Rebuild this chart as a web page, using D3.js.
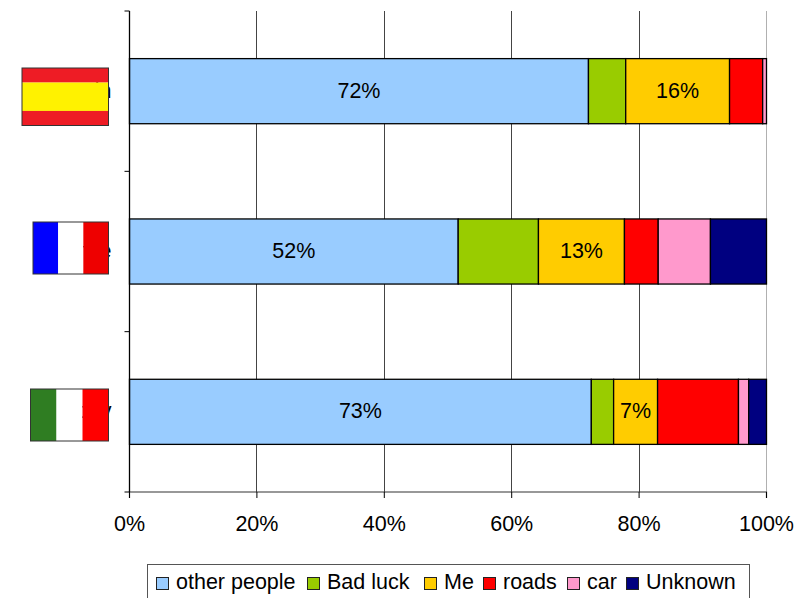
<!DOCTYPE html>
<html><head><meta charset="utf-8">
<script src="https://cdn.jsdelivr.net/npm/d3@7/dist/d3.min.js"></script>
<style>html,body{margin:0;padding:0;background:#fff;overflow:hidden}text{font-family:"Liberation Sans",Arial,sans-serif;fill:#000}</style>
</head><body><svg id="c" width="801" height="598"></svg>
<script>
const countries = ["Spain","France","Italy"];
const seriesNames = ["other people","Bad luck","Me","roads","car","Unknown"];
const seriesColors = ["#99ccff","#99cc00","#ffcc00","#ff0000","#ff99cc","#000080"];
const otherPeople = [72.05,51.6,72.5];
const badLuck = [5.85,12.6,3.5];
const me = [16.3,13.5,6.9];
const roads = [5.2,5.3,12.7];
const car = [0.6,8.2,1.6];
const unknown = [0,8.8,2.8];
const shownLabels = {"other people":["72%","52%","73%"],"Me":["16%","13%","7%"]};
const xTicks = [0,20,40,60,80,100];
const flagStripes = {Spain:{dir:"h",bands:[[1,"#ee1c25"],[1.95,"#fff200"],[1,"#ee1c25"]]},
  France:{dir:"v",bands:[[1,"#0000ff"],[1,"#ffffff"],[1,"#ee0000"]]},
  Italy:{dir:"v",bands:[[1,"#2f7d22"],[1,"#ffffff"],[1,"#ff0000"]]}};
const flagBoxes = {Spain:[22,108.5,68,125.5],France:[33,108.5,222,274],Italy:[30.5,108.5,389,441]};

const rows = [otherPeople,badLuck,me,roads,car,unknown];
const svg = d3.select("#c");
const fs=21.5;
const plotTop=11,plotBottom=492,plotLeft=129.5,plotRight=766.5;
const x = d3.scaleLinear().domain([0,100]).range([plotLeft,plotRight]);
const y = d3.scaleBand().domain(countries).range([plotTop,plotBottom]).paddingInner(0.594).paddingOuter(0.297);

// gridlines
svg.append("g").selectAll("line").data(xTicks.slice(1)).join("line")
  .attr("x1",d=>Math.floor(x(d))+.5).attr("x2",d=>Math.floor(x(d))+.5).attr("y1",plotTop).attr("y2",plotBottom)
  .attr("stroke",d=>d===100?"#b0b0b0":"#444").attr("stroke-width",1);

// bars
const stack = d3.stack().keys(d3.range(6)).value((d,k)=>rows[k][d])(d3.range(3));
const g = svg.append("g");
stack.forEach((s,k)=>{
  s.forEach((p,i)=>{
    const c=countries[i];
    g.append("rect").attr("x",x(p[0])).attr("y",y(c)).attr("width",x(p[1])-x(p[0])).attr("height",y.bandwidth())
     .attr("fill",seriesColors[k]).attr("stroke","#000").attr("stroke-width",1.3);
    const lab=shownLabels[seriesNames[k]];
    if(lab) g.append("text").attr("x",(x(p[0])+x(p[1]))/2).attr("y",y(c)+y.bandwidth()/2+6.5)
      .attr("text-anchor","middle").attr("font-size",fs).attr("fill","#111").text(lab[i]);
  });
});

// axes
const xAxis=d3.axisBottom(x).tickValues(xTicks).tickFormat(d=>d+"%").tickSize(6).tickPadding(18).offset(0);
const ax=svg.append("g").attr("transform",`translate(0,${plotBottom})`).call(xAxis);
ax.selectAll("text").attr("font-size",fs).style("font-family",'"Liberation Sans",Arial,sans-serif');
ax.select(".domain").attr("stroke","#333").attr("stroke-width",1.2);
const yTickPos=[0,1,2,3].map(i=>plotTop+i*(plotBottom-plotTop)/3);
const yAxisG=svg.append("g");
yAxisG.append("line").attr("x1",plotLeft).attr("x2",plotLeft).attr("y1",plotTop).attr("y2",plotBottom).attr("stroke","#000").attr("stroke-width",1.3);
yAxisG.selectAll(".t").data(yTickPos).join("line").attr("class","t").attr("x1",plotLeft-5).attr("x2",plotLeft).attr("y1",d=>d).attr("y2",d=>d).attr("stroke","#000");
countries.forEach(c=>{
  svg.append("text").attr("x",111.5).attr("y",y(c)+y.bandwidth()/2+6.5).attr("text-anchor","end").attr("font-size",fs).text(c);
});

// flags
countries.forEach(c=>{
  const [x0,x1,y0,y1]=flagBoxes[c],f=flagStripes[c];
  const total=d3.sum(f.bands,b=>b[0]);
  let acc=0;
  f.bands.forEach(([w,col])=>{
    const a=acc/total,b=(acc+w)/total;acc+=w;
    if(f.dir==="h") svg.append("rect").attr("x",x0).attr("width",x1-x0).attr("y",y0+a*(y1-y0)).attr("height",(b-a)*(y1-y0)).attr("fill",col);
    else svg.append("rect").attr("y",y0).attr("height",y1-y0).attr("x",x0+a*(x1-x0)).attr("width",(b-a)*(x1-x0)).attr("fill",col);
  });
  svg.append("rect").attr("x",x0).attr("y",y0).attr("width",x1-x0).attr("height",y1-y0).attr("fill","none").attr("stroke","#333").attr("stroke-width",1);
});

// legend
svg.append("rect").attr("x",147.5).attr("y",564.5).attr("width",602).attr("height",50).attr("fill","#fff").attr("stroke","#555").attr("stroke-width",1);
const legendX=[156.5,307.5,424.5,483.5,567.5,626.5];
seriesNames.forEach((n,i)=>{
  svg.append("rect").attr("x",legendX[i]).attr("y",577.5).attr("width",12).attr("height",12).attr("fill",seriesColors[i]).attr("stroke","#222").attr("stroke-width",1);
  svg.append("text").attr("x",legendX[i]+19.5).attr("y",589).attr("font-size",fs).text(n);
});
</script></body></html>
